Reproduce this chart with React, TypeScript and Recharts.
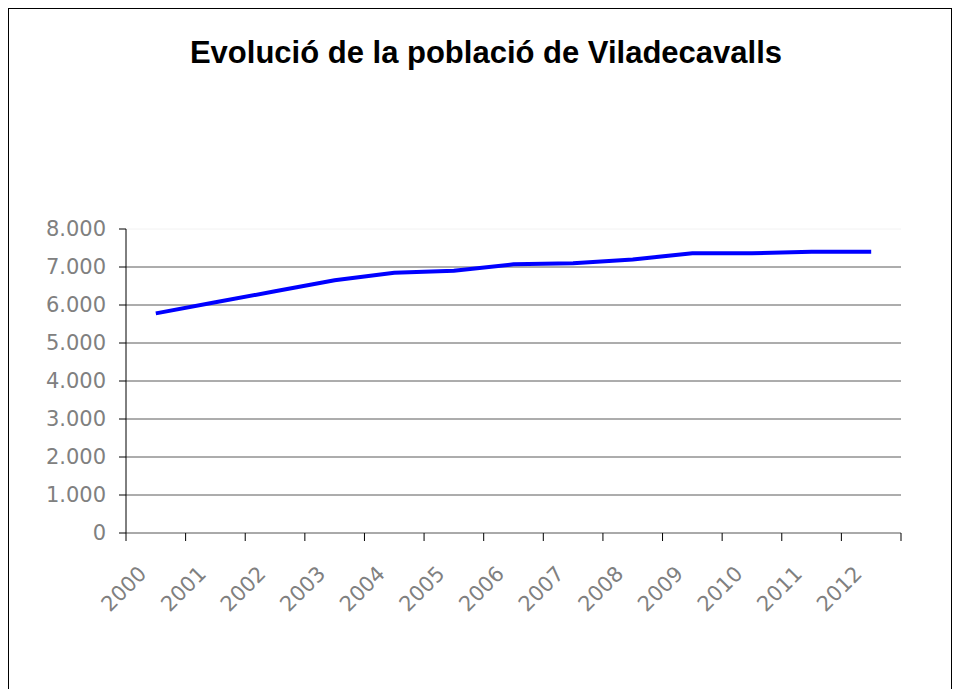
import { LineChart, Line, XAxis, YAxis, ReferenceLine } from 'recharts';

// Població anual de Viladecavalls (habitants)
const years = ['2000', '2001', '2002', '2003', '2004', '2005', '2006', '2007', '2008', '2009', '2010', '2011', '2012'];
const population = [5780, 6070, 6360, 6650, 6850, 6900, 7070, 7100, 7200, 7360, 7360, 7400, 7400];
const yTicks = [0, 1000, 2000, 3000, 4000, 5000, 6000, 7000, 8000];
const gridValues = [1000, 2000, 3000, 4000, 5000, 6000, 7000];

const data = years.map((year, i) => ({ year, pos: i + 0.5, value: population[i] }));
// category boundaries, where the x tick marks sit
const bounds = [...years.map((_, i) => i), years.length];

const GRAY = '#808080';
const FONT = '"DejaVu Sans", sans-serif';

const fmt = (v: number) => String(v).replace(/\B(?=(\d{3})+(?!\d))/g, '.');

function YearTick({ x, y, payload }: any) {
  const label = years[Math.floor(payload.value)];
  const tx = x - 8;
  const ty = y + 41;
  return (
    <text x={tx} y={ty} textAnchor="end" transform={`rotate(-45 ${tx} ${ty})`} fill={GRAY} fontSize={21} fontFamily={FONT}>
      {label}
    </text>
  );
}

const NoLabel = () => <g />;

export default function App() {
  return (
    <div style={{ position: 'relative', width: 954, height: 689, overflow: 'hidden', background: '#fff' }}>
      <style>{'body{margin:0;overflow:hidden}'}</style>
      <div
        style={{
          position: 'absolute', left: 8, top: 8, width: 944, height: 681, boxSizing: 'border-box',
          borderTop: '1px solid #000', borderLeft: '1px solid #000', borderRight: '1px solid #000',
        }}
      />
      <div
        style={{
          position: 'absolute', left: 18, top: 37, width: 936, textAlign: 'center', lineHeight: 1,
          fontFamily: '"Liberation Sans", Arial, sans-serif', fontWeight: 'bold', fontSize: 31, color: '#000',
        }}
      >
        Evolució de la població de Viladecavalls
      </div>
      <LineChart
        width={954}
        height={689}
        data={data}
        margin={{ top: 229, right: 53, left: 56, bottom: 95 }}
        style={{ position: 'absolute', left: 0, top: 0 }}
      >
        <XAxis
          xAxisId="bounds"
          type="number"
          dataKey="pos"
          domain={[0, years.length]}
          ticks={bounds}
          interval={0}
          tick={<NoLabel />}
          tickSize={8}
          height={1}
          axisLine={{ stroke: '#555' }}
          tickLine={{ stroke: '#000' }}
        />
        <XAxis
          xAxisId="labels"
          type="number"
          dataKey="pos"
          domain={[0, years.length]}
          ticks={data.map((d) => d.pos)}
          interval={0}
          tickLine={false}
          axisLine={false}
          tickSize={0}
          tickMargin={0}
          height={60}
          tick={<YearTick />}
        />
        <YAxis
          domain={[0, 8000]}
          ticks={yTicks}
          interval={0}
          width={70}
          tickSize={7}
          tickMargin={13}
          axisLine={{ stroke: '#000' }}
          tickLine={{ stroke: '#000' }}
          tickFormatter={fmt}
          tick={{ fill: GRAY, fontSize: 21, fontFamily: FONT }}
        />
        <ReferenceLine xAxisId="bounds" y={8000} stroke="#f2f2f2" />
        {gridValues.map((v) => (
          <ReferenceLine key={v} xAxisId="bounds" y={v} stroke="#5a5a5a" strokeWidth={1} />
        ))}
        <Line
          xAxisId="bounds"
          type="linear"
          dataKey="value"
          stroke="#0000ff"
          strokeWidth={4}
          dot={false}
          isAnimationActive={false}
        />
      </LineChart>
    </div>
  );
}
